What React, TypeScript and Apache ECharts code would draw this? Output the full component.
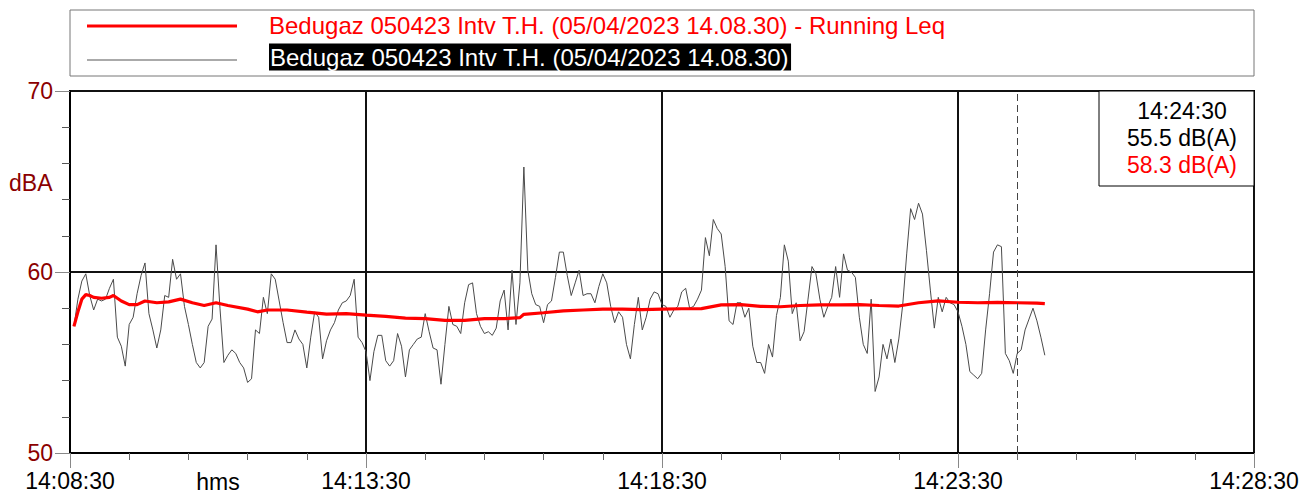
import React, { useEffect, useRef } from "react";
import * as echarts from "echarts";

// ---- data ----
const START_TIME = "14:08:30";
const END_TIME = "14:28:30";
const CURSOR_TIME = "14:24:30";
const SAMPLE_STEP = 4; // seconds between samples
const FIRST_SAMPLE = 4; // seconds after start

const seriesNameLeq = "Bedugaz 050423 Intv T.H. (05/04/2023 14.08.30) - Running Leq";
const seriesNameRaw = "Bedugaz 050423 Intv T.H. (05/04/2023 14.08.30)";
const yUnitLabel = "dBA";
const xUnitLabel = "hms";
const valueUnit = "dB(A)";

// sampled levels (dBA), one every 4 s from 14:08:34
const rawLevels = [
  57.0, 58.5, 59.5, 59.9, 58.7, 57.9, 58.5, 58.4, 58.5, 59.1,
  59.6, 56.4, 55.9, 54.8, 57.1, 57.5, 58.8, 59.8, 60.5, 57.7,
  56.8, 55.8, 56.8, 58.7, 58.6, 60.7, 59.6, 59.9, 58.1, 57.1,
  56.0, 55.0, 54.7, 55.0, 57.0, 57.4, 61.5, 58.0, 55.0, 55.4,
  55.7, 55.5, 55.0, 54.7, 53.9, 54.1, 56.8, 56.6, 58.6, 57.7,
  59.9, 59.6, 58.4, 57.2, 56.1, 56.1, 56.8, 56.3, 56.0, 54.7,
  56.4, 57.8, 57.5, 55.2, 56.2, 56.8, 57.2, 57.9, 58.3, 58.4,
  58.7, 59.6, 56.4, 56.1, 55.6, 54.0, 55.6, 56.5, 56.5, 55.1,
  54.8, 55.1, 56.6, 55.9, 54.2, 55.7, 56.0, 56.3, 56.4, 57.7,
  56.7, 55.8, 55.7, 53.8, 56.0, 58.1, 57.1, 57.0, 56.6, 58.3,
  59.3, 59.4, 57.7, 57.0, 56.6, 56.7, 56.5, 56.9, 58.4, 59.0,
  56.8, 60.1, 57.1, 59.4, 65.8, 60.1, 58.8, 58.2, 58.1, 57.2,
  58.2, 58.4, 59.7, 61.1, 61.1, 59.8, 58.7, 59.4, 60.1, 58.7,
  58.8, 58.8, 58.3, 59.2, 59.9, 59.4, 58.1, 57.2, 57.8, 57.5,
  56.0, 55.2, 57.1, 58.6, 56.8, 57.5, 58.5, 58.9, 58.8, 58.2,
  58.1, 57.5, 57.9, 58.1, 58.9, 59.1, 58.0, 58.1, 58.5, 59.0,
  61.9, 60.9, 62.9, 62.4, 62.1, 60.3, 57.3, 57.1, 58.3, 58.3,
  57.5, 58.0, 55.9, 55.0, 55.0, 54.4, 56.0, 55.3, 57.6, 58.6,
  61.5, 60.6, 57.7, 58.3, 56.2, 56.7, 58.5, 60.3, 59.9, 58.5,
  57.5, 58.1, 58.6, 60.3, 58.6, 61.0, 60.1, 60.0, 59.7, 57.5,
  56.0, 55.5, 58.5, 53.4, 54.2, 56.0, 55.2, 56.3, 55.0, 56.3,
  58.2, 61.0, 63.5, 62.9, 63.8, 63.2, 61.2, 59.0, 56.9, 58.6,
  57.8, 58.6, 58.3, 58.2, 57.8, 57.0, 56.0, 54.5, 54.3, 54.1,
  54.4, 56.8, 58.8, 61.1, 61.5, 61.4, 55.5, 55.1, 54.4, 55.5,
  55.7, 56.8, 57.4, 58.0, 57.3, 56.4, 55.4,
];

// running Leq, read at these offsets (s after 14:08:30)
const leqTimes = [
  4, 8, 12, 16, 20, 24, 32, 40, 44, 52,
  60, 68, 76, 88, 100, 112, 124, 136, 148, 160,
  180, 190, 200, 220, 240, 260, 280, 300, 320, 340,
  360, 380, 400, 420, 440, 456, 460, 480, 500, 520,
  540, 560, 580, 600, 620, 640, 660, 680, 700, 720,
  740, 760, 780, 800, 820, 840, 860, 880, 900, 920,
  940, 960, 980, 988,
];
const leqLevels = [
  57.0, 57.8, 58.5, 58.75, 58.7, 58.6, 58.55, 58.6, 58.7, 58.4,
  58.2, 58.2, 58.4, 58.3, 58.35, 58.5, 58.3, 58.15, 58.3, 58.15,
  57.95, 57.8, 57.9, 57.9, 57.78, 57.67, 57.7, 57.62, 57.55, 57.45,
  57.42, 57.33, 57.33, 57.42, 57.42, 57.48, 57.66, 57.75, 57.85, 57.9,
  57.95, 57.95, 57.92, 57.95, 57.97, 57.98, 58.18, 58.2, 58.1, 58.08,
  58.15, 58.18, 58.18, 58.2, 58.15, 58.12, 58.3, 58.4, 58.33, 58.3,
  58.32, 58.3, 58.28, 58.25,
];

const yMin = 50;
const yMax = 70;
const yStep = 10;
const xStepSeconds = 300;

// ---- helpers ----
const toSec = (s: string) => {
  const [h, m, sec] = s.split(":").map(Number);
  return h * 3600 + m * 60 + sec;
};
const pad = (n: number) => String(n).padStart(2, "0");
const fmt = (abs: number) => {
  const h = Math.floor(abs / 3600);
  const m = Math.floor((abs % 3600) / 60);
  const s = Math.round(abs % 60);
  return `${pad(h)}:${pad(m)}:${pad(s)}`;
};

const FONT = "'Liberation Sans', Arial, sans-serif";
const FS = 23;
const FS_LEGEND = 24;

export default function App() {
  const ref = useRef<HTMLDivElement>(null);

  useEffect(() => {
    if (!ref.current) return;
    const chart = echarts.init(ref.current, null, { renderer: "svg" });
    const start = toSec(START_TIME);
    const span = toSec(END_TIME) - start;
    const cursor = toSec(CURSOR_TIME) - start;

    const rawData = rawLevels.map((v, i) => [FIRST_SAMPLE + i * SAMPLE_STEP, v]);
    const leqData = leqTimes.map((t, i) => [t, leqLevels[i]]);
    const rawAtCursor = rawData.find((d) => d[0] === cursor)?.[1] ?? 0;
    const leqIdx = leqTimes.indexOf(cursor);
    const leqAtCursor = leqIdx >= 0 ? leqLevels[leqIdx] : 0;

    const gridLeft = 70;
    const gridTop = 91;
    const gridW = 1184;
    const gridH = 362;

    chart.setOption({
      animation: false,
      backgroundColor: "#fff",
      textStyle: { fontFamily: FONT },
      grid: {
        left: gridLeft,
        top: gridTop,
        width: gridW,
        height: gridH,
        show: true,
        borderColor: "#000",
        borderWidth: 2,
        backgroundColor: "transparent",
      },
      xAxis: {
        type: "value",
        min: 0,
        max: span,
        interval: xStepSeconds,
        axisLine: { show: true, lineStyle: { color: "#000", width: 2 } },
        axisTick: { show: true, length: 15, lineStyle: { color: "#888", width: 1 } },
        minorTick: { show: true, splitNumber: 5, length: 7, lineStyle: { color: "#666", width: 1 } },
        splitLine: { show: true, lineStyle: { color: "#111", width: 2 } },
        axisLabel: {
          color: "#000",
          fontSize: FS,
          fontFamily: FONT,
          margin: 16,
          formatter: (v: number) => fmt(start + v),
        },
      },
      yAxis: {
        type: "value",
        min: yMin,
        max: yMax,
        interval: yStep,
        axisLine: { show: true, lineStyle: { color: "#000", width: 2 } },
        axisTick: { show: true, length: 15, lineStyle: { color: "#888", width: 1 } },
        minorTick: { show: true, splitNumber: 5, length: 8, lineStyle: { color: "#555", width: 1 } },
        splitLine: { show: true, lineStyle: { color: "#111", width: 2 } },
        axisLabel: { color: "#8b0000", fontSize: FS, fontFamily: FONT, margin: 17 },
      },
      series: [
        {
          name: seriesNameRaw,
          type: "line",
          data: rawData,
          showSymbol: false,
          symbol: "none",
          lineStyle: { color: "#4a4a4a", width: 1 },
          z: 3,
          markLine: {
            silent: true,
            symbol: ["none", "none"],
            label: { show: false },
            lineStyle: { color: "#444", width: 1, type: [7, 4] },
            data: [{ xAxis: cursor }],
          },
        },
        {
          name: seriesNameLeq,
          type: "line",
          data: leqData,
          showSymbol: false,
          symbol: "none",
          lineStyle: { color: "#ff0000", width: 3.2 },
          z: 4,
        },
      ],
      graphic: [
        {
          type: "rect",
          shape: { x: 70, y: 10, width: 1184, height: 66 },
          style: { fill: "#fff", stroke: "#777", lineWidth: 1 },
        },
        {
          type: "line",
          shape: { x1: 87, y1: 26, x2: 237, y2: 26 },
          style: { stroke: "#ff0000", lineWidth: 3 },
        },
        {
          type: "text",
          x: 269,
          y: 25,
          style: {
            text: seriesNameLeq,
            fill: "#ff0000",
            font: `${FS_LEGEND}px ${FONT}`,
            textAlign: "left",
            textVerticalAlign: "middle",
          },
        },
        {
          type: "line",
          shape: { x1: 87, y1: 60, x2: 237, y2: 60 },
          style: { stroke: "#aaa", lineWidth: 2 },
        },
        {
          type: "text",
          x: 269,
          y: 57,
          style: {
            text: seriesNameRaw,
            fill: "#fff",
            backgroundColor: "#000",
            padding: [1, 2, 2, 1],
            font: `${FS_LEGEND}px ${FONT}`,
            textAlign: "left",
            textVerticalAlign: "middle",
          },
        },
        {
          type: "text",
          x: 9,
          y: 183,
          style: {
            text: yUnitLabel,
            fill: "#8b0000",
            font: `${FS}px ${FONT}`,
            textAlign: "left",
            textVerticalAlign: "middle",
          },
        },
        {
          type: "text",
          x: 218,
          y: 482,
          style: {
            text: xUnitLabel,
            fill: "#000",
            font: `${FS}px ${FONT}`,
            textAlign: "center",
            textVerticalAlign: "middle",
          },
        },
        {
          type: "rect",
          z: 100,
          shape: { x: 1099, y: 91, width: 155, height: 95 },
          style: { fill: "#fff", stroke: "#000", lineWidth: 1 },
        },
        {
          type: "text",
          z: 101,
          x: 1182,
          y: 111,
          style: {
            text: fmt(start + cursor),
            fill: "#000",
            font: `${FS}px ${FONT}`,
            textAlign: "center",
            textVerticalAlign: "middle",
          },
        },
        {
          type: "text",
          z: 101,
          x: 1182,
          y: 138,
          style: {
            text: `${Number(rawAtCursor).toFixed(1)} ${valueUnit}`,
            fill: "#000",
            font: `${FS}px ${FONT}`,
            textAlign: "center",
            textVerticalAlign: "middle",
          },
        },
        {
          type: "text",
          z: 101,
          x: 1182,
          y: 165,
          style: {
            text: `${leqAtCursor.toFixed(1)} ${valueUnit}`,
            fill: "#ff0000",
            font: `${FS}px ${FONT}`,
            textAlign: "center",
            textVerticalAlign: "middle",
          },
        },
      ],
    });

    return () => chart.dispose();
  }, []);

  return (
    <div
      ref={ref}
      style={{ position: "absolute", left: 0, top: 0, width: 1303, height: 494, background: "#fff" }}
    />
  );
}
